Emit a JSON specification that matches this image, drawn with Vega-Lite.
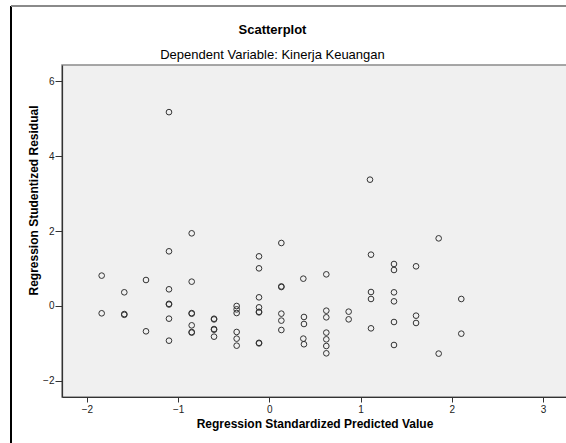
{
  "$schema": "https://vega.github.io/schema/vega-lite/v6.json",
  "autosize": {"type": "none"},
  "width": 505,
  "height": 332,
  "padding": {"left": 62, "top": 65, "right": 0, "bottom": 46},
  "background": "#ffffff",
  "title": {
    "text": "Scatterplot",
    "subtitle": "Dependent Variable: Kinerja Keuangan",
    "anchor": "middle",
    "frame": "group",
    "dx": -42,
    "offset": -57,
    "font": "Liberation Sans",
    "fontSize": 13,
    "fontWeight": "bold",
    "color": "#000000",
    "subtitleFont": "Liberation Sans",
    "subtitleFontSize": 13,
    "subtitleColor": "#000000",
    "subtitlePadding": 12
  },
  "data": {
    "values": [
      {"x": -1.838, "y": 0.81}, {"x": -1.838, "y": -0.195},
      {"x": -1.59, "y": 0.365}, {"x": -1.59, "y": -0.215}, {"x": -1.59, "y": -0.235},
      {"x": -1.352, "y": 0.693}, {"x": -1.352, "y": -0.675},
      {"x": -1.10, "y": 5.17}, {"x": -1.10, "y": 1.458}, {"x": -1.10, "y": 0.445},
      {"x": -1.10, "y": 0.058}, {"x": -1.10, "y": 0.04}, {"x": -1.10, "y": -0.338}, {"x": -1.10, "y": -0.925},
      {"x": -0.851, "y": 1.938}, {"x": -0.851, "y": 0.649}, {"x": -0.851, "y": -0.19}, {"x": -0.851, "y": -0.205},
      {"x": -0.851, "y": -0.516}, {"x": -0.851, "y": -0.695}, {"x": -0.851, "y": -0.71},
      {"x": -0.606, "y": -0.34}, {"x": -0.606, "y": -0.358}, {"x": -0.606, "y": -0.615}, {"x": -0.606, "y": -0.632},
      {"x": -0.606, "y": -0.818},
      {"x": -0.358, "y": 0.0}, {"x": -0.358, "y": -0.09}, {"x": -0.358, "y": -0.187},
      {"x": -0.358, "y": -0.693}, {"x": -0.358, "y": -0.871}, {"x": -0.358, "y": -1.058},
      {"x": -0.113, "y": 1.324}, {"x": -0.113, "y": 1.004}, {"x": -0.113, "y": 0.231},
      {"x": -0.113, "y": -0.036}, {"x": -0.113, "y": -0.155}, {"x": -0.113, "y": -0.17},
      {"x": -0.113, "y": -0.982}, {"x": -0.113, "y": -0.997},
      {"x": 0.132, "y": 1.68}, {"x": 0.132, "y": 0.522}, {"x": 0.132, "y": 0.506},
      {"x": 0.132, "y": -0.204}, {"x": 0.132, "y": -0.39}, {"x": 0.132, "y": -0.64},
      {"x": 0.373, "y": 0.729}, {"x": 0.38, "y": -0.293}, {"x": 0.38, "y": -0.48},
      {"x": 0.373, "y": -0.87}, {"x": 0.38, "y": -1.02},
      {"x": 0.625, "y": 0.844}, {"x": 0.625, "y": -0.125}, {"x": 0.625, "y": -0.302},
      {"x": 0.625, "y": -0.71}, {"x": 0.625, "y": -0.889}, {"x": 0.625, "y": -1.067}, {"x": 0.625, "y": -1.262},
      {"x": 0.87, "y": -0.151}, {"x": 0.87, "y": -0.356},
      {"x": 1.104, "y": 3.369}, {"x": 1.115, "y": 1.369}, {"x": 1.115, "y": 0.373},
      {"x": 1.115, "y": 0.187}, {"x": 1.115, "y": -0.596},
      {"x": 1.367, "y": 1.12}, {"x": 1.367, "y": 0.96}, {"x": 1.367, "y": 0.364},
      {"x": 1.367, "y": 0.124}, {"x": 1.367, "y": -0.427}, {"x": 1.367, "y": -1.04},
      {"x": 1.609, "y": 1.058}, {"x": 1.609, "y": -0.258}, {"x": 1.609, "y": -0.453},
      {"x": 1.857, "y": 1.804}, {"x": 1.857, "y": -1.27},
      {"x": 2.105, "y": 0.187}, {"x": 2.105, "y": -0.738}
    ]
  },
  "layer": [
    {
      "mark": {"type": "point", "shape": "circle", "filled": false, "stroke": "#333333", "strokeWidth": 1, "size": 32, "opacity": 1},
      "encoding": {
        "x": {
          "field": "x", "type": "quantitative",
          "scale": {"domain": [-2.273, 3.264], "nice": false, "zero": false},
          "axis": {
            "title": "Regression Standardized Predicted Value",
            "values": [-2, -1, 0, 1, 2, 3],
            "format": "d",
            "grid": false,
            "titleY": 26,
            "titleBaseline": "middle"
          }
        },
        "y": {
          "field": "y", "type": "quantitative",
          "scale": {"domain": [-2.427, 6.427], "nice": false, "zero": false},
          "axis": {
            "title": "Regression Studentized Residual",
            "values": [-2, 0, 2, 4, 6],
            "format": "d",
            "grid": false,
            "titleX": -29,
            "titleY": 135,
            "titleBaseline": "middle",
            "labelPadding": 1,
            "tickSize": 7
          }
        }
      }
    },
    {
      "mark": {"type": "rule", "color": "#000000", "strokeWidth": 1.5},
      "encoding": {
        "x": {"datum": -2.832},
        "y": {"datum": 8.0},
        "y2": {"datum": -3.9}
      }
    },
    {
      "mark": {"type": "rule", "color": "#8a8a8a", "strokeWidth": 2},
      "encoding": {
        "x": {"datum": -2.832},
        "x2": {"datum": 3.4},
        "y": {"datum": 8.0}
      }
    }
  ],
  "config": {
    "view": {"fill": "#f0f0f0", "stroke": "#8a8a8a", "strokeWidth": 1.5},
    "axis": {
      "domainColor": "#333333",
      "domainWidth": 1.2,
      "tickColor": "#333333",
      "tickSize": 5,
      "labelFont": "Liberation Sans",
      "labelFontSize": 10,
      "labelColor": "#222222",
      "titleFont": "Liberation Sans",
      "titleFontSize": 12,
      "titleFontWeight": "bold",
      "titleColor": "#000000"
    }
  }
}
